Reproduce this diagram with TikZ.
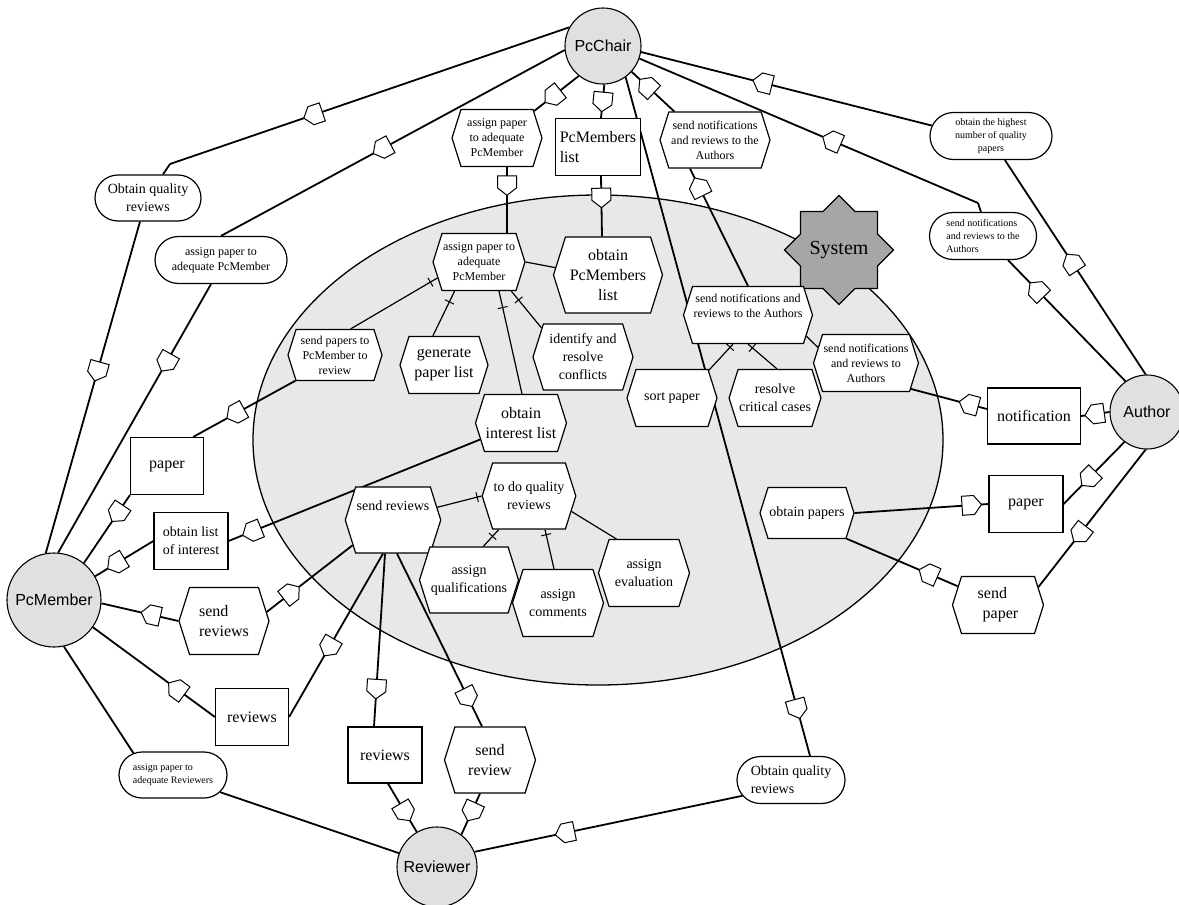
\documentclass[tikz,border=0pt]{standalone}
\usepackage{fontspec}
\setmainfont{Liberation Serif}
\newfontfamily\actorfont{Liberation Sans}
\usetikzlibrary{shapes.symbols,shapes.misc,shapes.geometric,decorations.markings}
\definecolor{actfill}{RGB}{224,224,224}
\definecolor{sysfill}{RGB}{232,232,232}
\definecolor{starfill}{RGB}{166,166,166}
\pgfdeclarelayer{bg}
\pgfdeclarelayer{lines}
\pgfsetlayers{bg,lines,main}
\newcommand\depmark{\draw[fill=white,line width=1pt] (-9,-9.5) -- (3,-9.5) -- (10.5,0) -- (3,9.5) -- (-9,9.5) -- cycle;}
\newcommand\depmarkr{\draw[fill=white,line width=1pt] (9,-9.5) -- (-3,-9.5) -- (-10.5,0) -- (-3,9.5) -- (9,9.5) -- cycle;}
\tikzset{
  actor/.style={circle, draw, fill=actfill, line width=1.1pt, minimum size=#1, inner sep=0pt,
    font=\actorfont\fontsize{16}{19}\selectfont},
  hx/.style 2 args={signal, signal to=east and west, signal pointer angle=145, draw, fill=white,
    line width=1.2pt, minimum width=#1, minimum height=#2, inner sep=1pt, align=center},
  rs/.style 2 args={rectangle, draw, fill=white, line width=1.2pt, minimum width=#1,
    minimum height=#2, inner sep=2pt, align=center},
  gs/.style 2 args={rounded rectangle, draw, fill=white, line width=1.2pt, minimum width=#1,
    minimum height=#2, inner sep=1pt, align=center},
  fa/.style={font=\fontsize{10}{13}\selectfont},
  fb/.style={font=\fontsize{12}{15}\selectfont},
  fc/.style={font=\fontsize{14}{18}\selectfont},
  fd/.style={font=\fontsize{16}{20}\selectfont},
  dep/.style={line width=1.8pt},
  inl/.style={line width=1.2pt},
  mk/.style={postaction={decorate,decoration={markings,mark=at position #1 with {\depmark}}}},
  mkr/.style={postaction={decorate,decoration={markings,mark=at position #1 with {\depmarkr}}}},
  tk/.style={postaction={decorate,decoration={markings,mark=at position #1 with {\draw[line width=1pt] (0,-5) -- (0,5);}}}},
}
\begin{document}
\begin{tikzpicture}[x=1pt,y=-1pt]
\useasboundingbox (0,0) rectangle (1179,905);
\begin{pgfonlayer}{bg}
\draw[fill=sysfill, line width=1.3pt] (598,440) ellipse [x radius=345, y radius=245];
\end{pgfonlayer}

% actors
\node[actor=76] (PC) at (603,46) {PcChair};
\node[actor=74] (AU) at (1147,412) {Author};
\node[actor=94] (PM) at (54,600) {PcMember};
\node[actor=80] (RV) at (437,867) {Reviewer};

\node[star, star points=8, star point ratio=1.307, minimum size=107, inner sep=0pt, draw, line width=1.2pt,
  fill=starfill, font=\fontsize{20}{24}\selectfont] (SYS) at (839,250) {System};

% outer elements
\node[gs={108}{46}, fc] (oqrL) at (148,198) {Obtain quality\\reviews};
\node[gs={134}{47}, fb] (apS) at (221,260) {assign paper to\\adequate PcMember};
\node[hx={90}{57}, fb] (apT) at (497,138) {assign paper\\to adequate\\PcMember};
\node[rs={85}{57}, fd, align=left] (pml) at (598,147) {PcMembers\\list};
\node[hx={110}{56}, fb] (snT) at (715,140) {send notifications\\and reviews to the\\Authors};
\node[gs={124}{47}, fa] (ohS) at (991,136) {obtain the highest\\number of quality\\papers};
\node[gs={109}{47}, fa, align=left] (snS) at (983,236) {send notifications\\and reviews to the\\Authors};
\node[rs={93}{56}, fd] (notif) at (1034,416) {notification};
\node[rs={74}{57}, fd] (papR) at (1026,504) {paper};
\node[hx={91}{57}, fd, align=left] (spap) at (998,605) {send\\\hspace*{5pt}paper};
\node[gs={110}{47}, fc, align=left] (oqrR) at (791,780) {Obtain quality\\reviews};
\node[hx={91}{66}, fd] (srev) at (490,760) {send\\review};
\node[rs={74}{56}, fd] (revB) at (385,755) {reviews};
\node[gs={110}{46}, fa, align=left] (apR) at (173,775) {assign paper to\\adequate Reviewers};
\node[rs={73}{57}, fd] (revL) at (252,717) {reviews};
\node[hx={90}{67}, fd, align=left] (srL) at (224,621) {send\\reviews};
\node[rs={74}{57}, fc, align=left] (oli) at (191,541) {obtain list\\of interest};
\node[rs={73}{57}, fd] (papL) at (167,466) {paper};

% inner elements
\node[hx={91}{57}, fb] (apI) at (479,262) {assign paper to\\adequate\\PcMember};
\node[hx={109}{76}, fd] (opl) at (608,275) {obtain\\PcMembers\\list};
\node[hx={94}{51}, fb] (spp) at (335,355) {send papers to\\PcMember to\\review};
\node[hx={88}{57}, fd] (gpl) at (444,365) {generate\\paper list};
\node[hx={100}{66}, fc] (irc) at (583,357) {identify and\\resolve\\conflicts};
\node[hx={91}{57}, fd] (oil) at (521,423) {obtain\\interest list};
\node[hx={90}{57}, fc] (sortp) at (672,398) {sort paper};
\node[hx={122}{57}, fb] (snI) at (748,315) {send notifications and\\reviews to the Authors\\[4pt]};
\node[hx={91}{57}, fc] (rcc) at (775,398) {resolve\\critical cases};
\node[hx={103}{57}, fb] (snA) at (866,363) {send notifications\\and reviews to\\Authors};
\node[hx={91}{66}, fc] (srI) at (393,520) {send reviews\\[10pt]};
\node[hx={91}{66}, fc] (tdq) at (529,496) {to do quality\\reviews};
\node[hx={90}{66}, fc] (aq) at (469,580) {assign\\qualifications};
\node[hx={91}{67}, fc] (ac) at (558,603) {assign\\comments};
\node[hx={91}{67}, fc] (ae) at (644,573) {assign\\evaluation};
\node[hx={94}{51}, fc] (op) at (807,513) {obtain papers};

\begin{pgfonlayer}{lines}
\coordinate (c1) at (170,164);
\coordinate (c2) at (978,203);
% PcChair dependencies
\draw[dep, mk=0.64] (PC.151) -- (c1);
\draw[dep] (c1) -- ([xshift=15]oqrL.north);
\draw[dep, mk=0.45] ([xshift=-8]oqrL.south) -- (PM.100);
\draw[dep, mk=0.53] (PC.186) -- (apS.north);
\draw[dep, mk=0.29] ([xshift=-10]apS.south) -- (PM.85);
\draw[dep, mk=0.57] (PC.231) -- (apT.36);
\draw[dep, mk=0.27] ([xshift=10]apT.south) -- ([xshift=28]apI.north);
\draw[dep, mk=0.5] (PC.272) -- ([xshift=3]pml.north);
\draw[dep, mk=0.35] ([xshift=3]pml.south) -- ([xshift=-6]opl.north);
\draw[dep, mk=0.93] (PC.306) -- ([xshift=19]oqrR.north);
\draw[dep, mk=0.66] (oqrR.198) -- (RV.22);
\draw[dep, mkr=0.37] (PC.318) -- (snT.145);
\draw[dep, mkr=0.16] ([xshift=-25]snT.south) -- (snI.north);
\draw[dep, mkr=0.42] (PC.351) -- (ohS.170);
\draw[dep, mkr=0.48] (ohS.-60) -- (AU.92);
\draw[dep, mkr=0.57] (PC.341) -- (c2);
\draw[dep] (c2) -- ([xshift=-2]snS.north);
\draw[dep, mkr=0.25] ([xshift=25]snS.south) -- (AU.125);
% Author dependencies
\draw[dep, mk=0.5] (AU.west) -- (notif.east);
\draw[dep, mk=0.23] ([yshift=7]notif.west) -- (snA.-30);
\draw[dep, mk=0.58] (AU.233) -- (papR.east);
\draw[dep, mkr=0.13] (papR.west) -- (op.east);
\draw[dep, mk=0.61] (AU.268) -- (spap.24);
\draw[dep, mk=0.26] (spap.155) -- (op.-33);
% PcMember dependencies
\draw[dep, mkr=0.37] (PM.30) -- (oli.west);
\draw[dep, mkr=0.095] (oli.east) -- (oil.202);
\draw[dep, mkr=0.74] (PM.51) -- (papL.south west);
\draw[dep, mkr=0.42] (papL.48) -- (spp.213);
\draw[dep, mkr=0.65] (PM.-4) -- (srL.west);
\draw[dep, mk=0.28] (srL.12) -- (srI.212);
\draw[dep, mkr=0.69] (PM.-35) -- (revL.west);
\draw[dep, mkr=0.43] (revL.east) -- ([xshift=-10]srI.south);
\draw[dep] (PM.-78) -- (apR.151);
\draw[dep] (apR.-20) -- (RV.160);
% Reviewer dependencies
\draw[dep, mk=0.78] ([xshift=-8]srI.south) -- ([xshift=-11]revB.north);
\draw[dep, mk=0.83] ([xshift=4]srI.south) -- ([xshift=-8]srev.north);
\draw[dep, mk=0.58] ([xshift=3]revB.south) -- (RV.120);
\draw[dep, mk=0.43] ([xshift=-10]srev.south) -- (RV.53);
% inner links
\draw[inl] (apI.east) -- (opl.172);
\draw[inl, tk=0.92] (spp.59) -- (apI.201);
\draw[inl, tk=0.76] (gpl.111) -- (apI.230);
\draw[inl, tk=0.84] ([xshift=1]oil.north) -- ([xshift=20]apI.south);
\draw[inl, tk=0.76] (irc.145) -- (apI.-42);
\draw[inl, tk=0.88] (sortp.37) -- ([xshift=-15]snI.south);
\draw[inl, tk=0.85] ([xshift=2]rcc.north) -- (snI.south);
\draw[inl] (snI.-20) -- (snA.162);
\draw[inl, tk=0.9] (srI.16) -- (tdq.west);
\draw[inl, tk=0.6] (aq.67) -- (tdq.228);
\draw[inl, tk=0.87] ([xshift=-4]ac.north) -- ([xshift=16]tdq.south);
\draw[inl] (tdq.-20) -- (ae.129);
\end{pgfonlayer}
\end{tikzpicture}
\end{document}
